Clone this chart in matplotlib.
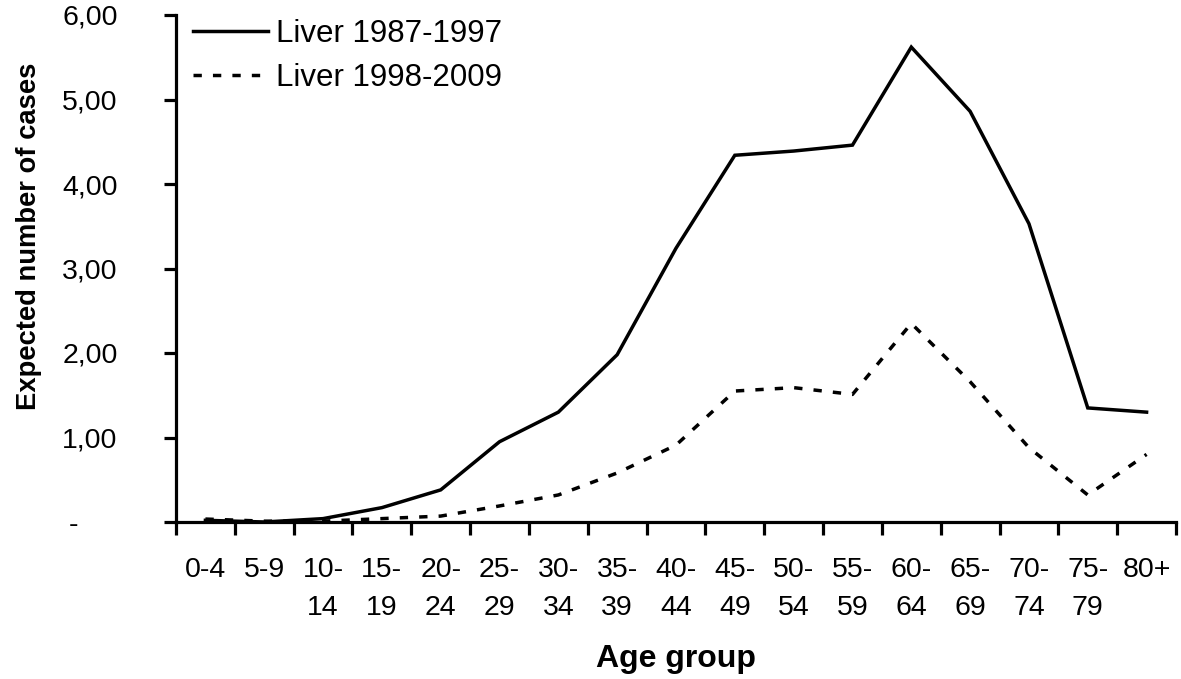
import matplotlib
matplotlib.use("Agg")
import matplotlib.pyplot as plt
import matplotlib.ticker as ticker

plt.rcParams['font.family'] = ['Liberation Sans', 'DejaVu Sans']

age_groups = ["0-4", "5-9", "10-\n14", "15-\n19", "20-\n24", "25-\n29", "30-\n34",
              "35-\n39", "40-\n44", "45-\n49", "50-\n54", "55-\n59", "60-\n64",
              "65-\n69", "70-\n74", "75-\n79", "80+"]
liver_87_97 = [0.02, 0.00, 0.04, 0.17, 0.38, 0.95, 1.30, 1.98, 3.24, 4.34,
               4.39, 4.46, 5.62, 4.86, 3.53, 1.35, 1.30]
liver_98_09 = [0.035, 0.01, 0.01, 0.04, 0.07, 0.19, 0.32, 0.58, 0.91, 1.55,
               1.59, 1.51, 2.35, 1.66, 0.88, 0.32, 0.80]

fig = plt.figure(figsize=(11.81, 6.79), dpi=100)
ax = fig.add_axes([176 / 1181, 1 - 522 / 679, 1000 / 1181, 507 / 679])

x = [i + 0.5 for i in range(len(age_groups))]
p1, = ax.plot(x, liver_87_97, color="black", lw=2.5, solid_joinstyle="miter",
              label="Liver 1987-1997")
p2, = ax.plot(x, liver_98_09, color="black", lw=2.5, dashes=(2.4, 3.2),
              label="Liver 1998-2009")

ax.set_xlim(0, len(age_groups))
ax.set_ylim(0, 6)

# category ticks sit between groups, labels sit in the middle
ax.xaxis.set_major_locator(ticker.FixedLocator(range(len(age_groups) + 1)))
ax.xaxis.set_major_formatter(ticker.NullFormatter())
ax.xaxis.set_minor_locator(ticker.FixedLocator(x))
ax.xaxis.set_minor_formatter(ticker.FixedFormatter(age_groups))
ax.tick_params(axis='x', which='minor', length=0, pad=25, labelsize=20.5)
for lbl in ax.get_xticklabels(minor=True):
    lbl.set_linespacing(1.6)

ax.set_yticks([0, 1, 2, 3, 4, 5, 6])
ax.set_yticklabels(["-     ", "1,00", "2,00", "3,00", "4,00", "5,00", "6,00"])

tkw = dict(length=9, width=2.3, direction='out', colors='black')
ax.tick_params(axis='x', which='major', **tkw)
ax.tick_params(axis='y', labelsize=20.5, pad=33, **tkw)

for side in ['top', 'right']:
    ax.spines[side].set_visible(False)
for side in ['left', 'bottom']:
    ax.spines[side].set_linewidth(2.3)

fig.text(29 / 1181, 1 - 236 / 679, "Expected number of cases", rotation=90,
         fontsize=19.7, fontweight='bold', ha='center', va='center')
fig.text(676 / 1181, 1 - 659 / 679, "Age group",
         fontsize=23, fontweight='bold', ha='center', va='center')

ax.legend(handles=[p1, p2], loc='upper left', bbox_to_anchor=(0.017, 0.992),
          frameon=False, fontsize=22.5, handlelength=2.4, handletextpad=0.27,
          labelspacing=0.45, borderpad=0, borderaxespad=0)

fig.savefig("out.png", dpi=100)
